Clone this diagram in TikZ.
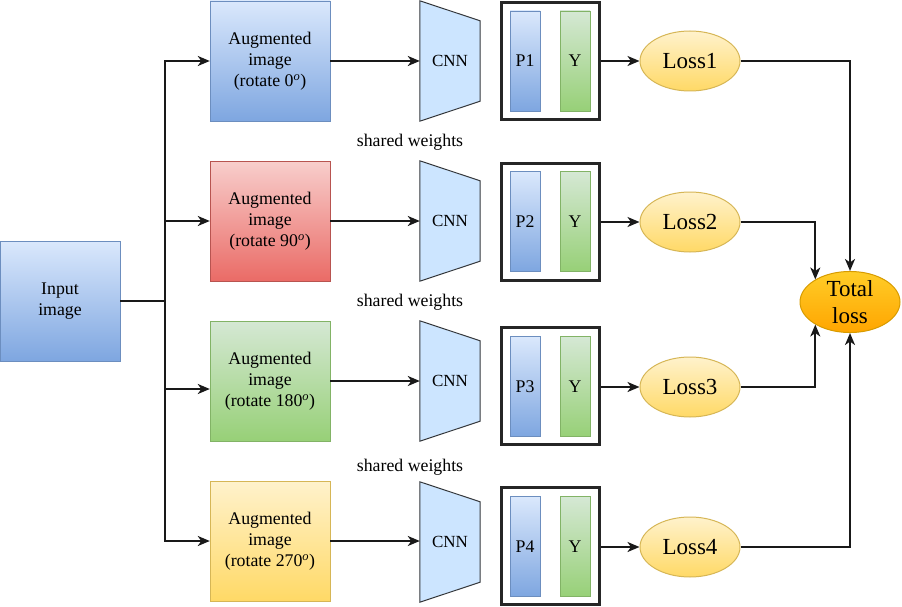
\documentclass[tikz,border=0pt]{standalone}
\usepackage{fontspec}
\setmainfont{LiberationSerif}[Extension=.ttf, UprightFont=*-Regular, ItalicFont=*-Italic, BoldFont=*-Bold, BoldItalicFont=*-BoldItalic]
\usetikzlibrary{shapes.geometric,arrows.meta}
\definecolor{bluetop}{HTML}{DAE8FC}\definecolor{bluebot}{HTML}{7EA6E0}\definecolor{bluedraw}{HTML}{6C8EBF}
\definecolor{redtop}{HTML}{F8CECC}\definecolor{redbot}{HTML}{EA6B66}\definecolor{reddraw}{HTML}{B85450}
\definecolor{greentop}{HTML}{D5E8D4}\definecolor{greenbot}{HTML}{97D077}\definecolor{greendraw}{HTML}{82B366}
\definecolor{yeltop}{HTML}{FFF2CC}\definecolor{yelbot}{HTML}{FFD966}\definecolor{yeldraw}{HTML}{D6B656}
\definecolor{orgtop}{HTML}{FFCD28}\definecolor{orgbot}{HTML}{FFA500}\definecolor{orgdraw}{HTML}{D79B00}
\definecolor{cnnfill}{HTML}{CCE5FF}\definecolor{cnndraw}{HTML}{36393D}
\begin{document}
\begin{tikzpicture}[x=1pt,y=-1pt,
  txt/.style={font=\fontsize{17.8}{21}\selectfont},
  imgbox/.style={draw, rectangle, minimum width=120pt, minimum height=120pt, inner sep=0pt, align=center, txt},
  blueg/.style={top color=bluetop, bottom color=bluebot, draw=bluedraw},
  redg/.style={top color=redtop, bottom color=redbot, draw=reddraw},
  greeng/.style={top color=greentop, bottom color=greenbot, draw=greendraw},
  yelg/.style={top color=yeltop, bottom color=yelbot, draw=yeldraw},
  cnnbox/.style={rectangle, minimum width=60pt, minimum height=120pt, inner sep=0pt, font=\fontsize{17}{20}\selectfont},
  outbox/.style={draw=black!85, line width=2.6pt, fill=white, rectangle, minimum width=98pt, minimum height=117pt, inner sep=0pt},
  bar/.style={draw, rectangle, minimum width=30pt, minimum height=100pt, inner sep=0pt, txt},
  lossnode/.style={ellipse, minimum width=100pt, minimum height=60pt, inner sep=0pt, top color=yeltop, bottom color=yelbot, draw=yeldraw, line width=1pt, font=\fontsize{23}{27}\selectfont},
  conn/.style={line width=2pt, draw=black!90},
  arr/.style={conn, -{Stealth[length=12pt,width=10pt,inset=3.5pt]}}
]
\useasboundingbox (0,0) rectangle (902,607);

% input
\node[imgbox, blueg] (in) at (60,301) {Input\\image};

% augmented images
\node[imgbox, blueg]  (a1) at (270,61)  {Augmented\\image\\(rotate 0\textsuperscript{\itshape o})};
\node[imgbox, redg]   (a2) at (270,221) {Augmented\\image\\(rotate 90\textsuperscript{\itshape o})};
\node[imgbox, greeng] (a3) at (270,381) {Augmented\\image\\(rotate 180\textsuperscript{\itshape o})};
\node[imgbox, yelg]   (a4) at (270,541) {Augmented\\image\\(rotate 270\textsuperscript{\itshape o})};

% CNN nodes
\foreach \i/\cy in {1/61,2/221,3/381,4/542}{
  \node[cnnbox] (c\i) at (450,\cy) {};
  \fill[cnnfill] (c\i.north west) -- ([yshift=-20pt]c\i.north east) -- ([yshift=20pt]c\i.south east) -- (c\i.south west) -- cycle;
  \draw[cnndraw, line width=1pt] (c\i.north west) -- ([yshift=-20pt]c\i.north east) -- ([yshift=20pt]c\i.south east) -- (c\i.south west) -- cycle;
  \node[cnnbox] at (c\i) {CNN};
}

% output boxes and bars
\foreach \i/\oy/\by in {1/61/61,2/222/221.5,3/386/386.5,4/546/546.5}{
  \node[outbox] (o\i) at (550.5,\oy) {};
  \node[bar, blueg] (p\i) at (525,\by) {P\i};
  \node[bar, greeng] (y\i) at (575,\by) {Y};
}

% losses
\node[lossnode] (l1) at (690,61)  {Loss1};
\node[lossnode] (l2) at (690,222) {Loss2};
\node[lossnode] (l3) at (690,387) {Loss3};
\node[lossnode] (l4) at (690,547) {Loss4};
\node[lossnode, top color=orgtop, bottom color=orgbot, draw=orgdraw, align=center] (t) at (850,302) {Total\\loss};

% shared weights
\node[txt] (s1) at (410,142) {shared weights};
\node[txt] (s2) at (410,302) {shared weights};
\node[txt] (s3) at (410,467) {shared weights};

% trunk
\coordinate (j) at (165,301);
\draw[conn] (in.east) -- (j);
\draw[arr] (j) |- (a1.west);
\draw[arr] (j) |- (a2.west);
\draw[arr] (j) |- ([yshift=-8pt]a3.west);
\draw[arr] (j) |- (a4.west);

% boxes to CNN, outputs to losses
\foreach \i in {1,2,3,4}{
  \draw[arr] (a\i.east) -- (a\i.east -| c\i.west);
  \draw[arr] (o\i.east |- l\i) -- (l\i.west);
}

% losses to total
\draw[arr] (l1.east) -| (t.north);
\draw[arr] (l2.east) -| (t.147);
\draw[arr] (l3.east) -| (t.213);
\draw[arr] (l4.east) -| (t.south);
\end{tikzpicture}
\end{document}
